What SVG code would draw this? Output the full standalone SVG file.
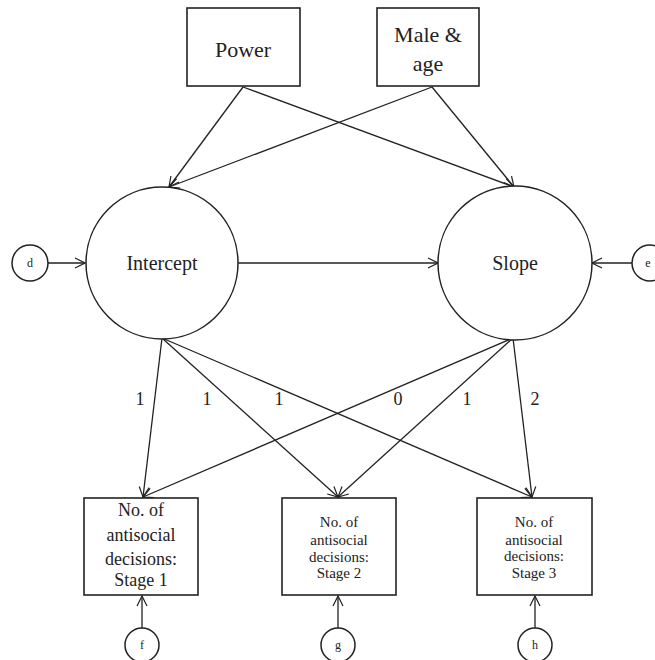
<svg xmlns="http://www.w3.org/2000/svg" width="655" height="660" viewBox="0 0 655 660">
<defs>
<marker id="arr" viewBox="0 0 12 12" refX="11" refY="6" markerWidth="12" markerHeight="12" markerUnits="userSpaceOnUse" orient="auto">
<path d="M1,1 L11,6 L1,11" fill="none" stroke="#222" stroke-width="1.2"/>
</marker>
<style>
.box{fill:#fff;stroke:#222;stroke-width:1.6}
.c{fill:#fff;stroke:#222;stroke-width:1.5}
.t{font-family:"Liberation Serif","Times New Roman",serif;fill:#222;text-anchor:middle}
.e{stroke:#222;stroke-width:1.3;fill:none;marker-end:url(#arr)}
</style>
</defs>
<rect width="655" height="660" fill="#fff"/>
<g id="connectors">
<line class="e" x1="243" y1="87" x2="169" y2="187"/>
<line class="e" x1="243" y1="87" x2="514" y2="187"/>
<line class="e" x1="432" y1="87" x2="169" y2="187"/>
<line class="e" x1="432" y1="87" x2="514" y2="187"/>
<line class="e" x1="48" y1="263" x2="85" y2="263"/>
<line class="e" x1="632" y1="263" x2="592" y2="263"/>
<line class="e" x1="238" y1="263" x2="438" y2="263"/>
<line class="e" x1="162" y1="338" x2="143" y2="497"/>
<line class="e" x1="162" y1="338" x2="338" y2="497"/>
<line class="e" x1="162" y1="338" x2="532" y2="497"/>
<line class="e" x1="513" y1="338" x2="143" y2="497"/>
<line class="e" x1="513" y1="338" x2="338" y2="497"/>
<line class="e" x1="513" y1="338" x2="532" y2="497"/>
<line class="e" x1="142" y1="628" x2="142" y2="596"/>
<line class="e" x1="338" y1="628" x2="338" y2="596"/>
<line class="e" x1="535" y1="628" x2="535" y2="596"/>
<text class="t" x="140" y="405" font-size="18">1</text>
<text class="t" x="207" y="405" font-size="18">1</text>
<text class="t" x="279" y="405" font-size="18">1</text>
<text class="t" x="398" y="405" font-size="18">0</text>
<text class="t" x="467" y="405" font-size="18">1</text>
<text class="t" x="535" y="405" font-size="18">2</text>
</g>
<g id="power">
<rect class="box" x="187" y="8" width="113" height="78"/>
<text class="t" x="243" y="57" font-size="22">Power</text>
</g>
<g id="maleage">
<rect class="box" x="377" y="8" width="102" height="78"/>
<text class="t" x="428" y="42" font-size="22">Male &amp;</text>
<text class="t" x="428" y="71" font-size="22">age</text>
</g>
<g id="intercept">
<circle class="c" cx="162" cy="263" r="76"/>
<text class="t" x="162" y="270" font-size="20">Intercept</text>
</g>
<g id="slope">
<circle class="c" cx="515" cy="263" r="77"/>
<text class="t" x="515" y="270" font-size="20">Slope</text>
</g>
<g id="d">
<circle class="c" cx="30" cy="263" r="18"/>
<text class="t" x="30" y="267" font-size="12">d</text>
</g>
<g id="e">
<circle class="c" cx="650" cy="263" r="18"/>
<text class="t" x="648" y="267" font-size="12">e</text>
</g>
<g id="stage1">
<rect class="box" x="84" y="498" width="114" height="97"/>
<text class="t" x="141" y="516" font-size="18">No. of</text>
<text class="t" x="141" y="541" font-size="18">antisocial</text>
<text class="t" x="141" y="565" font-size="18">decisions:</text>
<text class="t" x="141" y="586" font-size="18">Stage 1</text>
</g>
<g id="stage2">
<rect class="box" x="282" y="498" width="114" height="97"/>
<text class="t" x="339" y="527" font-size="15">No. of</text>
<text class="t" x="339" y="545" font-size="15">antisocial</text>
<text class="t" x="339" y="562" font-size="15">decisions:</text>
<text class="t" x="339" y="578" font-size="15">Stage 2</text>
</g>
<g id="stage3">
<rect class="box" x="477" y="498" width="115" height="97"/>
<text class="t" x="534" y="527" font-size="15">No. of</text>
<text class="t" x="534" y="545" font-size="15">antisocial</text>
<text class="t" x="534" y="561" font-size="15">decisions:</text>
<text class="t" x="534" y="578" font-size="15">Stage 3</text>
</g>
<g id="f">
<circle class="c" cx="142" cy="645" r="17"/>
<text class="t" x="142" y="649" font-size="12">f</text>
</g>
<g id="g">
<circle class="c" cx="338" cy="645" r="17"/>
<text class="t" x="338" y="649" font-size="12">g</text>
</g>
<g id="h">
<circle class="c" cx="535" cy="645" r="17"/>
<text class="t" x="535" y="649" font-size="12">h</text>
</g>
</svg>
